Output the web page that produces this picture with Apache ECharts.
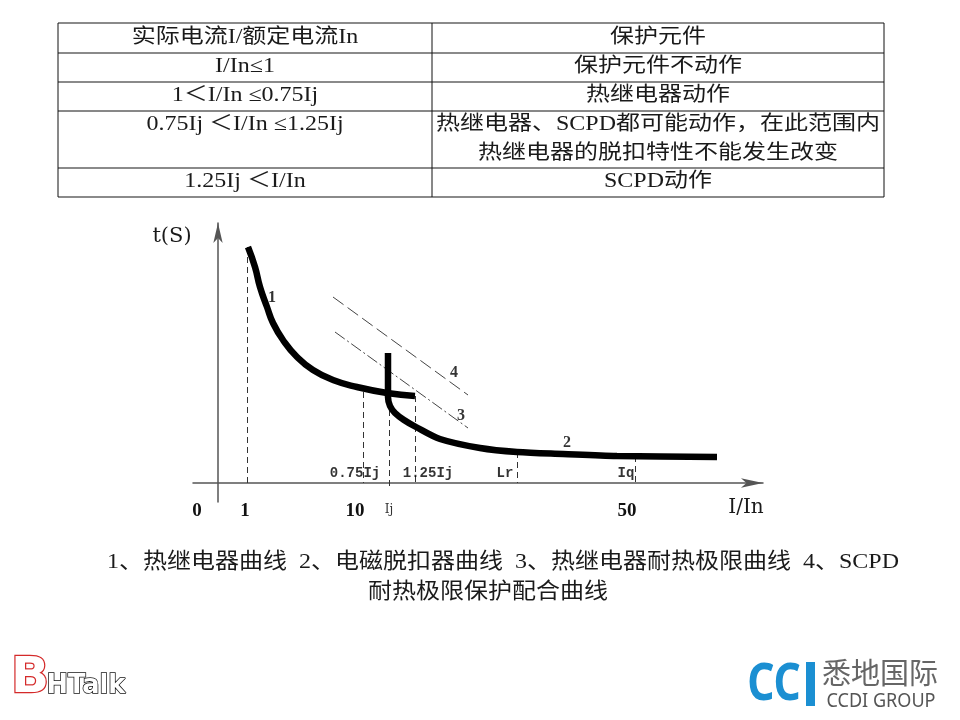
<!DOCTYPE html>
<html><head><meta charset="utf-8">
<script src="https://cdn.jsdelivr.net/npm/echarts@6/dist/echarts.min.js"></script>
<style>html,body{margin:0;padding:0;background:#fff}#c{width:960px;height:720px}</style>
</head><body><div id="c"></div>
<script>
// ---- table content ----
const tableHeader = ['实际电流I/额定电流In', '保护元件'];
const tableLeft = ['I/In≤1', '1＜I/In ≤0.75Ij', '0.75Ij ＜I/In ≤1.25Ij', '1.25Ij ＜I/In'];
const tableRight = [['保护元件不动作'], ['热继电器动作'], ['热继电器、SCPD都可能动作，在此范围内', '热继电器的脱扣特性不能发生改变'], ['SCPD动作']];
const captionLines = ['1、热继电器曲线  2、电磁脱扣器曲线  3、热继电器耐热极限曲线  4、SCPD', '耐热极限保护配合曲线'];

// ---- schematic axis ticks (I/In) ----
const xTickValues = [-2.1, 2.7, 13.7, 17.1, 40.9];
const xTickLabels = ['0', '1', '10', 'Ij', '50'];

// ---- curves (x: schematic I/In position, y: schematic t) ----
const thermalCurve = [[3.0, 23.6], [3.7, 21.6], [4.2, 19.6], [4.9, 17.6], [5.5, 16.0], [6.5, 14.3], [7.9, 12.6], [9.5, 11.3], [11.5, 10.3], [13.9, 9.6], [16.9, 9.0], [19.7, 8.7]];
const magneticCurve = [[17.0, 13.0], [17.0, 10.0], [17.0, 8.6], [17.2, 7.7], [17.7, 7.0], [18.6, 6.3], [19.8, 5.6], [22.2, 4.4], [26.2, 3.5], [29.9, 3.1], [34.5, 2.9], [39.9, 2.7], [49.9, 2.6]];
const thermalLimit = [[11.7, 15.1], [25.0, 5.5]];
const scpdLimit = [[11.5, 18.6], [25.0, 8.8]];

// ---- dashed reference verticals: [x, yTop, yBottom] ----
const refVerticals = [[2.9, 23.6, 0], [14.5, 9.1, 0], [17.1, 7.3, -0.4], [19.7, 8.7, 0], [29.9, 3.1, 0], [41.7, 2.7, 0]];
const refLabels = [['0.75Ij', 13.7, 1.0], ['1.25Ij', 21.0, 1.0], ['Lr', 28.7, 1.0], ['Iq', 40.8, 1.0]];
const curveLabels = [['1', 5.4, 18.5], ['4', 23.6, 11.0], ['3', 24.3, 6.7], ['2', 34.9, 4.0]];

const serif = "'Liberation Serif','Noto Sans CJK SC',serif";
const chart = echarts.init(document.getElementById('c'), null, {renderer: 'canvas'});

// ---- table graphics ----
const graphic = [];
const tL = 58, tM = 432, tR = 884;
const rowYs = [23, 53, 82, 111, 168, 197];
rowYs.forEach((y, i) => {
  const dark = (i === 3);
  graphic.push({type: 'line', shape: {x1: tL, y1: y, x2: tR, y2: y},
    style: {stroke: dark ? '#111' : '#8a8a8a', lineWidth: dark ? 1 : 2}, silent: true});
});
[tL, tM, tR].forEach(x => graphic.push({type: 'line', shape: {x1: x, y1: 23, x2: x, y2: 197}, style: {stroke: '#111', lineWidth: 1}, silent: true}));

function txt(t, x, y, size, opts) {
  opts = opts || {};
  return {type: 'text', x: x, y: y, scaleY: opts.sy || 0.86, scaleX: opts.sx || 1, silent: true,
    style: {text: t, x: 0, y: 0, font: (opts.weight || 'normal') + ' ' + size + 'px ' + (opts.family || serif),
      fill: opts.fill || '#1a1a1a', textAlign: opts.align || 'center', textVerticalAlign: 'middle',
      stroke: opts.stroke, lineWidth: opts.lw || 0}};
}
const lc = (tL + tM) / 2, rc = (tM + tR) / 2;
graphic.push(txt(tableHeader[0], lc, 38, 24));
graphic.push(txt(tableHeader[1], rc, 38, 24));
const rowCenters = [67, 96, 139, 182];
tableLeft.forEach((t, i) => graphic.push(txt(t, lc, i === 2 ? 125 : rowCenters[i], 24)));
tableRight.forEach((lines, i) => {
  if (lines.length === 1) graphic.push(txt(lines[0], rc, rowCenters[i], 24));
  else { graphic.push(txt(lines[0], rc, 125, 24)); graphic.push(txt(lines[1], rc, 154, 24)); }
});
// caption
graphic.push(txt(captionLines[0], 503, 562, 24, {sy: 0.9}));
graphic.push(txt(captionLines[1], 488, 592, 24, {sy: 0.9}));
// axis names
graphic.push(txt('t(S)', 172, 237, 21, {sy: 1, family: "'DejaVu Serif','Liberation Serif',serif"}));
graphic.push(txt('I/In', 746, 508, 20, {sy: 1, family: "'DejaVu Serif','Liberation Serif',serif"}));
// logos
graphic.push(txt('B', 30, 679, 50, {sy: 1, weight: 'bold', family: "'DejaVu Sans',sans-serif", fill: '#fff', stroke: '#d42a2a', lw: 2.5}));
graphic.push(txt('HTalk', 86, 686, 27, {sy: 1, sx: 0.95, weight: 'bold', family: "'DejaVu Sans',sans-serif", fill: '#fff', stroke: '#111', lw: 1.6}));
graphic.push(txt('CC', 774, 685, 50, {sy: 1.05, sx: 0.85, weight: 'bold', family: "'Noto Sans',sans-serif", fill: '#1b8fd2'}));
graphic.push({type: 'rect', shape: {x: 806, y: 662, width: 9, height: 44}, style: {fill: '#1b8fd2'}, silent: true});
graphic.push(txt('悉地国际', 880, 673, 29, {sy: 1, family: "'Noto Sans CJK SC',sans-serif", fill: '#666'}));
graphic.push(txt('CCDI GROUP', 881, 702, 19, {sy: 1, sx: 0.95, family: "'Noto Sans','DejaVu Sans',sans-serif", fill: '#555'}));

const option = {
  backgroundColor: '#ffffff',
  animation: false,
  grid: {left: 193, right: 197, top: 223, bottom: 218, containLabel: false},
  xAxis: {
    type: 'value', min: -2.5, max: 54.5,
    splitLine: {show: false}, axisTick: {show: false},
    axisLine: {show: true, onZero: true, symbol: ['none', 'arrow'], symbolSize: [7, 22], lineStyle: {color: '#555', width: 1.5}},
    axisLabel: {
      show: true, customValues: xTickValues, margin: 0, showMinLabel: true, showMaxLabel: true,
      formatter: function (v) {
        let best = 0, d = 1e9;
        xTickValues.forEach((tv, i) => { if (Math.abs(tv - v) < d) { d = Math.abs(tv - v); best = i; } });
        const lab = xTickLabels[best];
        return lab === 'Ij' ? '{s|' + lab + '}' : '{b|' + lab + '}';
      },
      rich: {
        b: {fontFamily: "'Liberation Serif',serif", fontWeight: 'bold', fontSize: 19, color: '#111'},
        s: {fontFamily: "'DejaVu Serif',serif", fontSize: 12, color: '#333', padding: [2, 0, 0, 0]}
      }
    }
  },
  yAxis: {
    type: 'value', min: -1.9, max: 26,
    splitLine: {show: false}, axisTick: {show: false}, axisLabel: {show: false},
    axisLine: {show: true, onZero: true, symbol: ['none', 'arrow'], symbolSize: [7, 20], lineStyle: {color: '#555', width: 1.5}}
  },
  graphic: graphic,
  series: [
    {type: 'lines', coordinateSystem: 'cartesian2d', silent: true, z: 1,
      lineStyle: {color: '#333', width: 1, type: [6, 4], opacity: 1},
      data: refVerticals.map(r => ({coords: [[r[0], r[1]], [r[0], r[2]]]}))},
    {type: 'line', data: scpdLimit, symbol: 'none', silent: true, z: 2,
      lineStyle: {color: '#444', width: 1, type: [13, 5]}},
    {type: 'line', data: thermalLimit, symbol: 'none', silent: true, z: 2,
      lineStyle: {color: '#444', width: 1, type: [12, 3, 2, 3]}},
    {type: 'line', data: thermalCurve, symbol: 'none', smooth: 0.5, silent: true, z: 3,
      lineStyle: {color: '#000', width: 6.5, cap: 'butt'}},
    {type: 'line', data: magneticCurve, symbol: 'none', smooth: 0.3, silent: true, z: 3,
      lineStyle: {color: '#000', width: 6.5, cap: 'butt'}},
    {type: 'scatter', symbolSize: 0, silent: true, clip: false, z: 4,
      data: refLabels.map(r => ({value: [r[1], r[2]], name: r[0]})),
      label: {show: true, position: 'inside', formatter: '{b}', fontFamily: "'Liberation Mono','DejaVu Sans Mono',monospace",
        fontWeight: 'bold', fontSize: 14, color: '#000'}},
    {type: 'scatter', symbolSize: 0, silent: true, clip: false, z: 4,
      data: curveLabels.map(r => ({value: [r[1], r[2]], name: r[0]})),
      label: {show: true, position: 'inside', formatter: '{b}', fontFamily: "'Liberation Serif',serif",
        fontWeight: 'bold', fontSize: 16, color: '#000'}}
  ]
};
chart.setOption(option);
</script>
</body></html>
